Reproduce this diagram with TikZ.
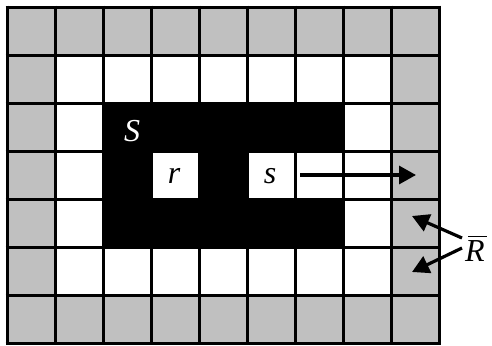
\documentclass[tikz,border=0pt]{standalone}
\usepackage{fontspec}
\setmainfont{Liberation Serif}
\usetikzlibrary{arrows.meta}
\begin{document}
\begin{tikzpicture}[x=1pt,y=-1pt,
  gridline/.style={line width=3.8pt,black},
  lbl/.style={font=\fontsize{32}{34}\selectfont\itshape,inner sep=0pt},
  cellw/.style={fill=white},
  bigarrow/.style={line width=3.2pt,-{Triangle[length=17pt,width=18pt]}}]
\useasboundingbox (0,0) rectangle (492,345);
\fill[fill={rgb,255:red,192;green,192;blue,192}] (7.5,7.5) rectangle (439.5,343.5);
\fill[white] (55.5,55.5) rectangle (391.5,295.5);
\foreach \i in {0,...,9} {\draw[gridline] ({7.5+48*\i},5.6) -- ({7.5+48*\i},345.4);}
\foreach \j in {0,...,7} {\draw[gridline] (5.6,{7.5+48*\j}) -- (441.4,{7.5+48*\j});}
\fill[black] (103.5,103.5) rectangle (343.5,247.5);
\fill[cellw] (153.4,153.4) rectangle (197.6,197.6);
\fill[cellw] (249.4,153.4) rectangle (293.6,197.6);
\fill[cellw] (297.4,153.4) rectangle (341.6,197.6);
\node[lbl,text=white] (S) at (132,131) {S};
\node[lbl] (r) at (174,176) {r};
\node[lbl] (s) at (270,176) {s};
\coordinate (a1) at (300,175);
\coordinate (a2) at (416,175);
\draw[bigarrow] (a1) -- (a2);
\node[lbl,anchor=west] (Rb) at (465,251) {R};
\draw[line width=1.2pt] ([xshift=3pt,yshift=4pt]Rb.north west) -- ([xshift=2pt,yshift=4pt]Rb.north east);
\coordinate (t1) at (412,216);
\coordinate (t2) at (412,272);
\coordinate (f1) at (462,238);
\coordinate (f2) at (462,248);
\draw[bigarrow] (f1) -- (t1);
\draw[bigarrow] (f2) -- (t2);
\end{tikzpicture}
\end{document}
